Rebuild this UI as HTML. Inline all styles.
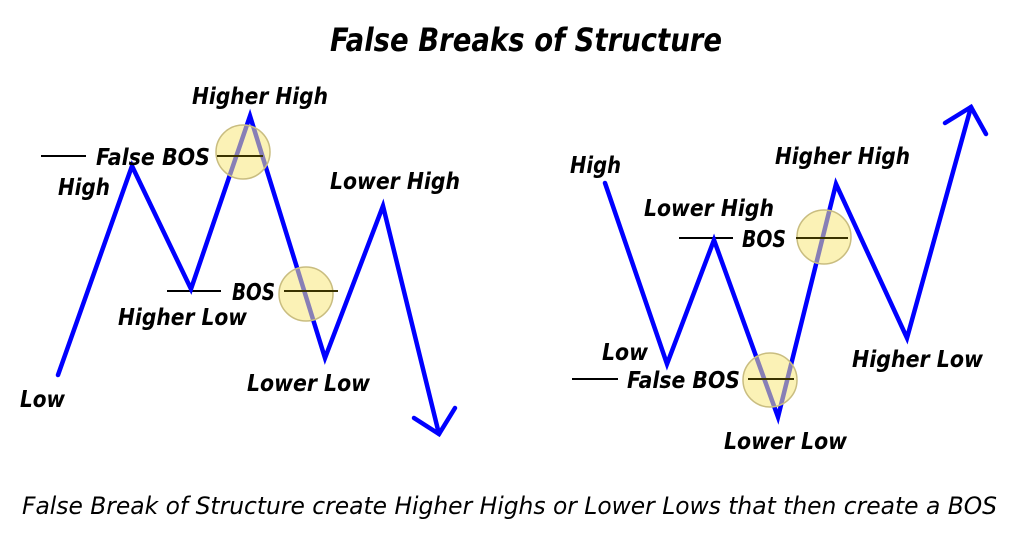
<!DOCTYPE html>
<html><head><meta charset="utf-8"><style>
html,body{margin:0;padding:0;background:#fff;}
svg{display:block}
text{font-family:"DejaVu Sans","Liberation Sans",sans-serif;font-style:oblique;font-weight:bold;fill:#000;}
</style></head><body>
<svg width="1024" height="534" viewBox="0 0 1024 534" xmlns="http://www.w3.org/2000/svg">
<text x="330" y="51" font-size="32" textLength="392" lengthAdjust="spacingAndGlyphs">False Breaks of Structure</text>
<text x="22" y="514" font-size="24" textLength="975" lengthAdjust="spacingAndGlyphs" style="font-weight:normal">False Break of Structure create Higher Highs or Lower Lows that then create a BOS</text>

<g stroke="#000" stroke-width="2">
<line x1="41" y1="156" x2="86" y2="156"/>
<line x1="167" y1="291" x2="221" y2="291"/>
<line x1="679" y1="238" x2="733" y2="238"/>
<line x1="572" y1="379" x2="618" y2="379"/>
</g>

<g fill="none" stroke="#0000ff" stroke-width="4.5" stroke-linejoin="miter" stroke-linecap="round">
<polyline points="58,375 132,166 191,289 250,116 325,358 383,206 439,434"/>
<polyline points="414,418 439,434 455,408"/>
<polyline points="605,183 667,364 714,240 778,417 836,184 907,338 971,107"/>
<polyline points="945,123 971,107 986,134"/>
</g>

<g fill="#f7e77a" fill-opacity="0.55" stroke="#c9bd80" stroke-width="1.5">
<circle cx="243" cy="152" r="27"/>
<circle cx="306" cy="294" r="27"/>
<circle cx="824" cy="237" r="27"/>
<circle cx="770" cy="380" r="27"/>
</g>
<g stroke="#3a3300" stroke-width="2">
<line x1="217" y1="156" x2="263" y2="156"/>
<line x1="284" y1="291" x2="338" y2="291"/>
<line x1="796" y1="238" x2="848" y2="238"/>
<line x1="748" y1="379" x2="794" y2="379"/>
</g>

<g font-size="23">
<text x="192" y="104" textLength="136" lengthAdjust="spacingAndGlyphs">Higher High</text>
<text x="96" y="165" textLength="114" lengthAdjust="spacingAndGlyphs">False BOS</text>
<text x="58" y="195" textLength="52" lengthAdjust="spacingAndGlyphs">High</text>
<text x="232" y="300" textLength="43" lengthAdjust="spacingAndGlyphs">BOS</text>
<text x="118" y="325" textLength="129" lengthAdjust="spacingAndGlyphs">Higher Low</text>
<text x="330" y="189" textLength="130" lengthAdjust="spacingAndGlyphs">Lower High</text>
<text x="247" y="391" textLength="123" lengthAdjust="spacingAndGlyphs">Lower Low</text>
<text x="20" y="407" textLength="45" lengthAdjust="spacingAndGlyphs">Low</text>

<text x="570" y="173" textLength="51" lengthAdjust="spacingAndGlyphs">High</text>
<text x="644" y="216" textLength="130" lengthAdjust="spacingAndGlyphs">Lower High</text>
<text x="742" y="247" textLength="44" lengthAdjust="spacingAndGlyphs">BOS</text>
<text x="775" y="164" textLength="135" lengthAdjust="spacingAndGlyphs">Higher High</text>
<text x="602" y="360" textLength="46" lengthAdjust="spacingAndGlyphs">Low</text>
<text x="627" y="388" textLength="113" lengthAdjust="spacingAndGlyphs">False BOS</text>
<text x="724" y="449" textLength="123" lengthAdjust="spacingAndGlyphs">Lower Low</text>
<text x="852" y="367" textLength="131" lengthAdjust="spacingAndGlyphs">Higher Low</text>
</g>
</svg>
</body></html>
